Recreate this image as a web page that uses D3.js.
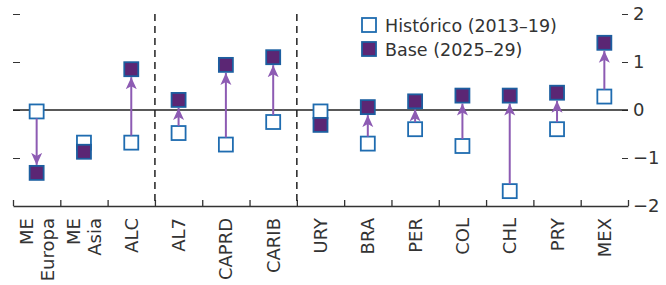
<!doctype html>
<html>
<head>
<meta charset="utf-8">
<style>
body { margin: 0; background: #fff; }
svg { font-family: "DejaVu Sans", sans-serif; }
</style>
<script src="https://d3js.org/d3.v7.min.js"></script>
</head>
<body>
<svg width="666" height="285"></svg>
<script>
// categories (bottom labels, line breaks with "\n")
var categories = ["ME\nEuropa", "ME\nAsia", "ALC", "AL7", "CAPRD", "CARIB",
                  "URY", "BRA", "PER", "COL", "CHL", "PRY", "MEX"];
// Histórico (2013–19)
var historico = [-0.03, -0.68, -0.68, -0.48, -0.72, -0.25,
                 -0.03, -0.70, -0.40, -0.75, -1.69, -0.40, 0.28];
// Base (2025–29)
var base = [-1.31, -0.87, 0.85, 0.21, 0.94, 1.10,
            -0.31, 0.06, 0.18, 0.30, 0.30, 0.36, 1.40];
var yTicks = [2, 1, 0, -1, -2];
var groupBreaks = [3, 6];   // dashed lines after ALC and after CARIB
var legendLabels = ["Histórico (2013–19)", "Base (2025–29)"];

var svg = d3.select("svg");
var mLeft = 13, mRight = 628, mTop = 14, mBottom = 206;

var x = d3.scaleBand().domain(categories).range([mLeft, mRight]);
var xi = d3.scaleLinear().domain([0, categories.length]).range([mLeft, mRight]);
var y = d3.scaleLinear().domain([-2, 2]).range([mBottom, mTop]);

var histColor = "#1f6cb0", baseFill = "#5b2674", baseStroke = "#1d5fa0", arrowColor = "#8d5bb3";
var textColor = "#333";

svg.append("defs").append("marker")
    .attr("id", "head")
    .attr("viewBox", "0 0 12 12")
    .attr("refX", 12).attr("refY", 6)
    .attr("markerWidth", 12).attr("markerHeight", 12)
    .attr("markerUnits", "userSpaceOnUse")
    .attr("orient", "auto")
  .append("path")
    .attr("d", "M0,0.5 L12,6 L0,11.5 L3,6 Z")
    .attr("fill", arrowColor);

// left ticks (no labels)
svg.append("g")
    .attr("transform", "translate(" + mLeft + ",0)")
    .call(d3.axisLeft(y).tickValues([2, 1, 0, -1]).tickSize(-7).tickFormat(""))
    .call(g => g.select(".domain").remove())
    .selectAll("line").attr("stroke", textColor);

// right axis
svg.append("g")
    .attr("transform", "translate(" + mRight + ",0)")
    .call(d3.axisRight(y).tickValues(yTicks).tickFormat(d3.format("d"))
            .tickSizeInner(-6).tickSizeOuter(0))
    .call(g => g.select(".domain").remove())
    .call(g => g.selectAll("line").attr("stroke", textColor))
    .call(g => g.selectAll("text").attr("x", 5).attr("fill", textColor)
                .style("font-size", "18px").style("font-family", "'DejaVu Sans', sans-serif"));

// zero line
svg.append("line")
    .attr("x1", mLeft).attr("x2", mRight)
    .attr("y1", y(0)).attr("y2", y(0))
    .attr("stroke", "#222").attr("stroke-width", 1.3);

// bottom axis with boundary ticks
svg.append("g")
    .attr("transform", "translate(0," + mBottom + ")")
    .call(d3.axisBottom(xi).tickValues(d3.range(categories.length + 1))
            .tickSizeInner(-6).tickSizeOuter(0).tickFormat(""))
    .call(g => g.select(".domain").attr("stroke", textColor).attr("stroke-width", 1.3))
    .selectAll("line").attr("stroke", textColor).attr("stroke-width", 1.3);

// dashed group separators
svg.selectAll(".sep")
  .data(groupBreaks)
  .enter().append("line")
    .attr("x1", d => xi(d)).attr("x2", d => xi(d))
    .attr("y1", mTop).attr("y2", mBottom)
    .attr("stroke", "#222").attr("stroke-width", 1.5)
    .attr("stroke-dasharray", "7,5");

// category labels
var lab = svg.selectAll(".lab")
  .data(categories)
  .enter().append("g")
    .attr("transform", d => "translate(" + (x(d) + x.bandwidth() / 2) + ",218) rotate(-90)");
lab.each(function(d) {
  var lines = d.split("\n");
  var off = (lines.length - 1) * 10.5;
  d3.select(this).selectAll("text")
    .data(lines)
    .enter().append("text")
      .attr("x", 0)
      .attr("y", (l, i) => -off + i * 21)
      .attr("dy", "0.36em")
      .attr("text-anchor", "end")
      .attr("fill", textColor)
      .style("font-size", "18px")
      .text(l => l);
});

var s = 14;
var idx = d3.range(categories.length);

// historic markers
svg.selectAll(".hist")
  .data(idx)
  .enter().append("rect")
    .attr("x", i => x(categories[i]) + x.bandwidth() / 2 - s / 2)
    .attr("y", i => y(historico[i]) - s / 2)
    .attr("width", s).attr("height", s)
    .attr("fill", "#fff").attr("stroke", histColor).attr("stroke-width", 1.8);

// arrows from historic to base
svg.selectAll(".arr")
  .data(idx.filter(i => Math.abs(y(base[i]) - y(historico[i])) - s > 12))
  .enter().append("line")
    .attr("x1", i => x(categories[i]) + x.bandwidth() / 2)
    .attr("x2", i => x(categories[i]) + x.bandwidth() / 2)
    .attr("y1", i => y(historico[i]) + (base[i] > historico[i] ? -s / 2 : s / 2))
    .attr("y2", i => y(base[i]) + (base[i] > historico[i] ? s / 2 + 1 : -s / 2 - 1))
    .attr("stroke", arrowColor).attr("stroke-width", 2)
    .attr("marker-end", "url(#head)");

// base markers
svg.selectAll(".base")
  .data(idx)
  .enter().append("rect")
    .attr("x", i => x(categories[i]) + x.bandwidth() / 2 - s / 2)
    .attr("y", i => y(base[i]) - s / 2)
    .attr("width", s).attr("height", s)
    .attr("fill", baseFill).attr("stroke", baseStroke).attr("stroke-width", 1.8);

// legend
var leg = svg.append("g").attr("transform", "translate(362,18)");
leg.selectAll("rect")
  .data(legendLabels)
  .enter().append("rect")
    .attr("x", 0).attr("y", (d, i) => i * 24)
    .attr("width", s).attr("height", s)
    .attr("fill", (d, i) => i ? baseFill : "#fff")
    .attr("stroke", (d, i) => i ? baseStroke : histColor)
    .attr("stroke-width", 1.8);
leg.selectAll("text")
  .data(legendLabels)
  .enter().append("text")
    .attr("x", 23).attr("y", (d, i) => i * 24 + 13.5)
    .attr("fill", textColor)
    .style("font-size", "17.5px")
    .text(d => d);
</script>
</body>
</html>
